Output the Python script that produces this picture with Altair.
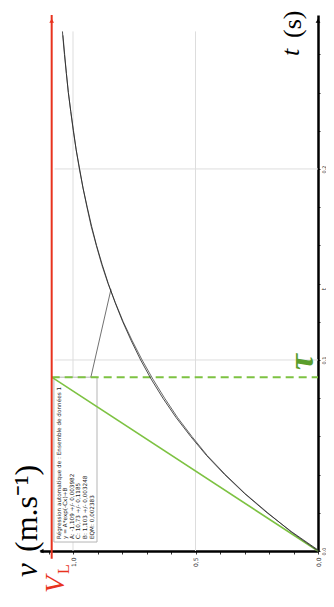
import altair as alt
import pandas as pd

# ---- data ----
t_data = [0.00, 0.01, 0.02, 0.03, 0.04, 0.05, 0.06, 0.07, 0.08, 0.09, 0.10, 0.11, 0.12, 0.13,
          0.14, 0.15, 0.16, 0.17, 0.18, 0.19, 0.20, 0.21, 0.22, 0.23, 0.24, 0.25, 0.26, 0.27]
v_data = [0.000, 0.110, 0.205, 0.297, 0.378, 0.452, 0.515, 0.574, 0.626, 0.674, 0.718, 0.758, 0.795, 0.827,
          0.857, 0.883, 0.905, 0.926, 0.943, 0.959, 0.974, 0.987, 0.999, 1.009, 1.019, 1.027, 1.034, 1.041]

t_fit = [0.00, 0.01, 0.02, 0.03, 0.04, 0.05, 0.06, 0.07, 0.08, 0.09, 0.10, 0.11, 0.12, 0.13, 0.14,
         0.15, 0.16, 0.17, 0.18, 0.19, 0.20, 0.21, 0.22, 0.23, 0.24, 0.25, 0.26, 0.27, 0.272]
v_fit = [-0.006, 0.107, 0.208, 0.299, 0.381, 0.455, 0.520, 0.580, 0.633, 0.681, 0.724, 0.762, 0.797, 0.828, 0.856,
         0.881, 0.904, 0.924, 0.942, 0.959, 0.973, 0.987, 0.998, 1.009, 1.019, 1.027, 1.035, 1.042, 1.043]

VL = 1.087      # limit velocity (red line)
TAU = 0.091     # time constant (green dashed)

v_grid = [0.5, 1.0]
t_grid = [0.1, 0.2]
v_ticks = [0.0, 0.1, 0.2, 0.3, 0.4, 0.5, 0.6, 0.7, 0.8, 0.9, 1.0, 1.1]
t_ticks = [0.00, 0.02, 0.04, 0.06, 0.08, 0.10, 0.12, 0.14, 0.16, 0.18, 0.20, 0.22, 0.24, 0.26]

box_lines = ["Régression automatique de :  Ensemble de données 1",
             "y = A*exp(-Cx)+B",
             "A: -1,109 +/- 0,003982",
             "C: 10,73 +/- 0,1185",
             "B: 1,103 +/- 0,003248",
             "EQM: 0,002383"]

V_MAX = 1.1347
T_MAX = 0.2806

xs = alt.Scale(domain=[0, V_MAX], reverse=True, nice=False, zero=False)
ys = alt.Scale(domain=[0, T_MAX], nice=False, zero=False)

xaxis = alt.Axis(values=v_ticks, title=None, grid=False,
                 labelExpr="abs(datum.value*2-round(datum.value*2))<0.001 ? replace(format(datum.value,'.1f'),'.',',') : ''",
                 domainColor="black", domainWidth=2.5, tickColor="black", tickWidth=0.8, tickSize=3,
                 labelAngle=270, labelAlign="right", labelBaseline="middle", labelFontSize=6,
                 labelFont="DejaVu Sans", labelPadding=3, labelColor="#222", labelOverlap=False)
yaxis = alt.Axis(orient="right", values=t_ticks, title=None, grid=False,
                 labelExpr="abs(datum.value*10-round(datum.value*10))<0.001 ? replace(format(datum.value,'.1f'),'.',',') : ''",
                 domainColor="black", domainWidth=2.5, tickColor="black", tickWidth=0.8, tickSize=2,
                 labelAngle=270, labelAlign="center", labelBaseline="top", labelFontSize=5,
                 labelFont="DejaVu Sans", labelPadding=1, labelColor="#222", labelOverlap=False)


def X(f):
    return alt.X(f, type="quantitative", scale=xs, axis=xaxis)


def Y(f):
    return alt.Y(f, type="quantitative", scale=ys, axis=yaxis)


df_data = pd.DataFrame({"v": v_data, "t": t_data})
df_fit = pd.DataFrame({"v": v_fit, "t": t_fit})

gv = pd.DataFrame({"v": v_grid, "t0": [0] * len(v_grid), "t1": [0.272] * len(v_grid)})
gt = pd.DataFrame({"t": t_grid, "v0": [0] * len(t_grid), "v1": [1.075] * len(t_grid)})

grid_v = alt.Chart(gv).mark_rule(color="#dddddd", strokeWidth=1).encode(x=X("v"), y=Y("t0"), y2="t1")
grid_t = alt.Chart(gt).mark_rule(color="#dddddd", strokeWidth=1).encode(y=Y("t"), x=X("v0"), x2="v1")

# regression box
box_df = pd.DataFrame({"v0": [1.078], "v1": [0.902], "t0": [0.0047], "t1": [TAU]})
box = alt.Chart(box_df).mark_rect(fill="white", stroke="#b5b5b5", strokeWidth=1).encode(
    x=X("v0"), x2="v1", y=Y("t0"), y2="t1")
box_text = alt.Chart(pd.DataFrame({"txt": [box_lines]})).mark_text(
    angle=270, align="left", baseline="top", fontSize=5.7, lineHeight=6.6, font="DejaVu Sans", color="#222"
).encode(text="txt:N", x=alt.value(15.5), y=alt.value(524))

pointer_df = pd.DataFrame({"v": [0.927, 0.845], "t": [TAU, 0.137]})
pointer = alt.Chart(pointer_df).mark_line(color="#333", strokeWidth=0.7).encode(x=X("v"), y=Y("t"))

# tangent & tau
tan_df = pd.DataFrame({"v": [0, VL], "t": [0, TAU]})
tangent = alt.Chart(tan_df).mark_line(color="#7dc242", strokeWidth=1.6).encode(x=X("v"), y=Y("t"))
dash_df = pd.DataFrame({"v0": [VL], "v1": [0], "t": [TAU]})
dashed = alt.Chart(dash_df).mark_rule(color="#7dc242", strokeWidth=2, strokeDash=[8, 5]).encode(
    x=X("v0"), x2="v1", y=Y("t"))

# curves
fit_line = alt.Chart(df_fit).mark_line(color="#222", strokeWidth=0.8).encode(x=X("v"), y=Y("t"), order="t:Q")
data_line = alt.Chart(df_data).mark_line(color="#444", strokeWidth=0.8).encode(x=X("v"), y=Y("t"), order="t:Q")

# red VL line
red_df = pd.DataFrame({"v": [VL], "t0": [-0.004], "t1": [T_MAX]})
red = alt.Chart(red_df).mark_rule(color="#e8321e", strokeWidth=2).encode(x=X("v"), y=Y("t0"), y2="t1")
red_head = alt.Chart(pd.DataFrame({"v": [VL], "t": [T_MAX - 0.003]})).mark_point(
    shape="triangle-up", filled=True, color="#e8321e", size=22, opacity=1).encode(x=X("v"), y=Y("t"))

# axis arrow heads
ah_t = alt.Chart(pd.DataFrame({"v": [0], "t": [T_MAX - 0.003]})).mark_point(
    shape="triangle-up", filled=True, color="black", size=22, opacity=1).encode(x=X("v"), y=Y("t"))
ah_v = alt.Chart(pd.DataFrame({"v": [V_MAX - 0.006], "t": [0]})).mark_point(
    shape="triangle-left", filled=True, color="black", size=22, opacity=1).encode(x=X("v"), y=Y("t"))

serif = "Liberation Serif"
lab_v1 = alt.Chart(pd.DataFrame({"s": ["v"]})).mark_text(
    angle=270, align="left", baseline="alphabetic", fontSize=31, font=serif, fontStyle="italic", color="black"
).encode(text="s:N", x=alt.value(-3), y=alt.value(562))
lab_v2 = alt.Chart(pd.DataFrame({"s": ["(m.s⁻¹)"]})).mark_text(
    angle=270, align="left", baseline="alphabetic", fontSize=32, font=serif, color="black"
).encode(text="s:N", x=alt.value(-3), y=alt.value(537))
lab_t1 = alt.Chart(pd.DataFrame({"s": ["t"]})).mark_text(
    angle=270, align="left", baseline="alphabetic", fontSize=26, font=serif, fontStyle="italic", color="black"
).encode(text="s:N", x=alt.value(259), y=alt.value(41))
lab_t2 = alt.Chart(pd.DataFrame({"s": ["(s)"]})).mark_text(
    angle=270, align="left", baseline="alphabetic", fontSize=26, font=serif, color="black"
).encode(text="s:N", x=alt.value(261), y=alt.value(23))
lab_V = alt.Chart(pd.DataFrame({"s": ["V"]})).mark_text(
    angle=270, align="left", baseline="alphabetic", fontSize=28, font=serif, fontStyle="italic", color="#e8321e"
).encode(text="s:N", x=alt.value(24), y=alt.value(578))
lab_L = alt.Chart(pd.DataFrame({"s": ["L"]})).mark_text(
    angle=270, align="left", baseline="alphabetic", fontSize=16, font=serif, color="#e8321e"
).encode(text="s:N", x=alt.value(29), y=alt.value(559))
lab_tau = alt.Chart(pd.DataFrame({"s": ["τ"]})).mark_text(
    angle=270, align="center", baseline="middle", fontSize=36, font=serif, fontStyle="italic",
    fontWeight="bold", color="#5a9e2c"
).encode(text="s:N", x=alt.value(262), y=alt.value(347))
lab_small = alt.Chart(pd.DataFrame({"s": ["t"]})).mark_text(
    angle=270, align="center", baseline="middle", fontSize=6, font="DejaVu Sans", color="#333"
).encode(text="s:N", x=alt.value(284), y=alt.value(274))

chart = alt.layer(
    grid_v, grid_t, box, box_text, pointer, tangent, dashed, data_line, fit_line,
    red, red_head, ah_t, ah_v, lab_v1, lab_v2, lab_t1, lab_t2, lab_V, lab_L, lab_tau, lab_small
).properties(
    width=278, height=536,
    padding={"left": 32, "top": 7, "right": 8, "bottom": 42},
    autosize="none",
    background="white",
).configure_view(stroke=None)

chart.save("out.html", embed_options={"renderer": "svg", "actions": False})
